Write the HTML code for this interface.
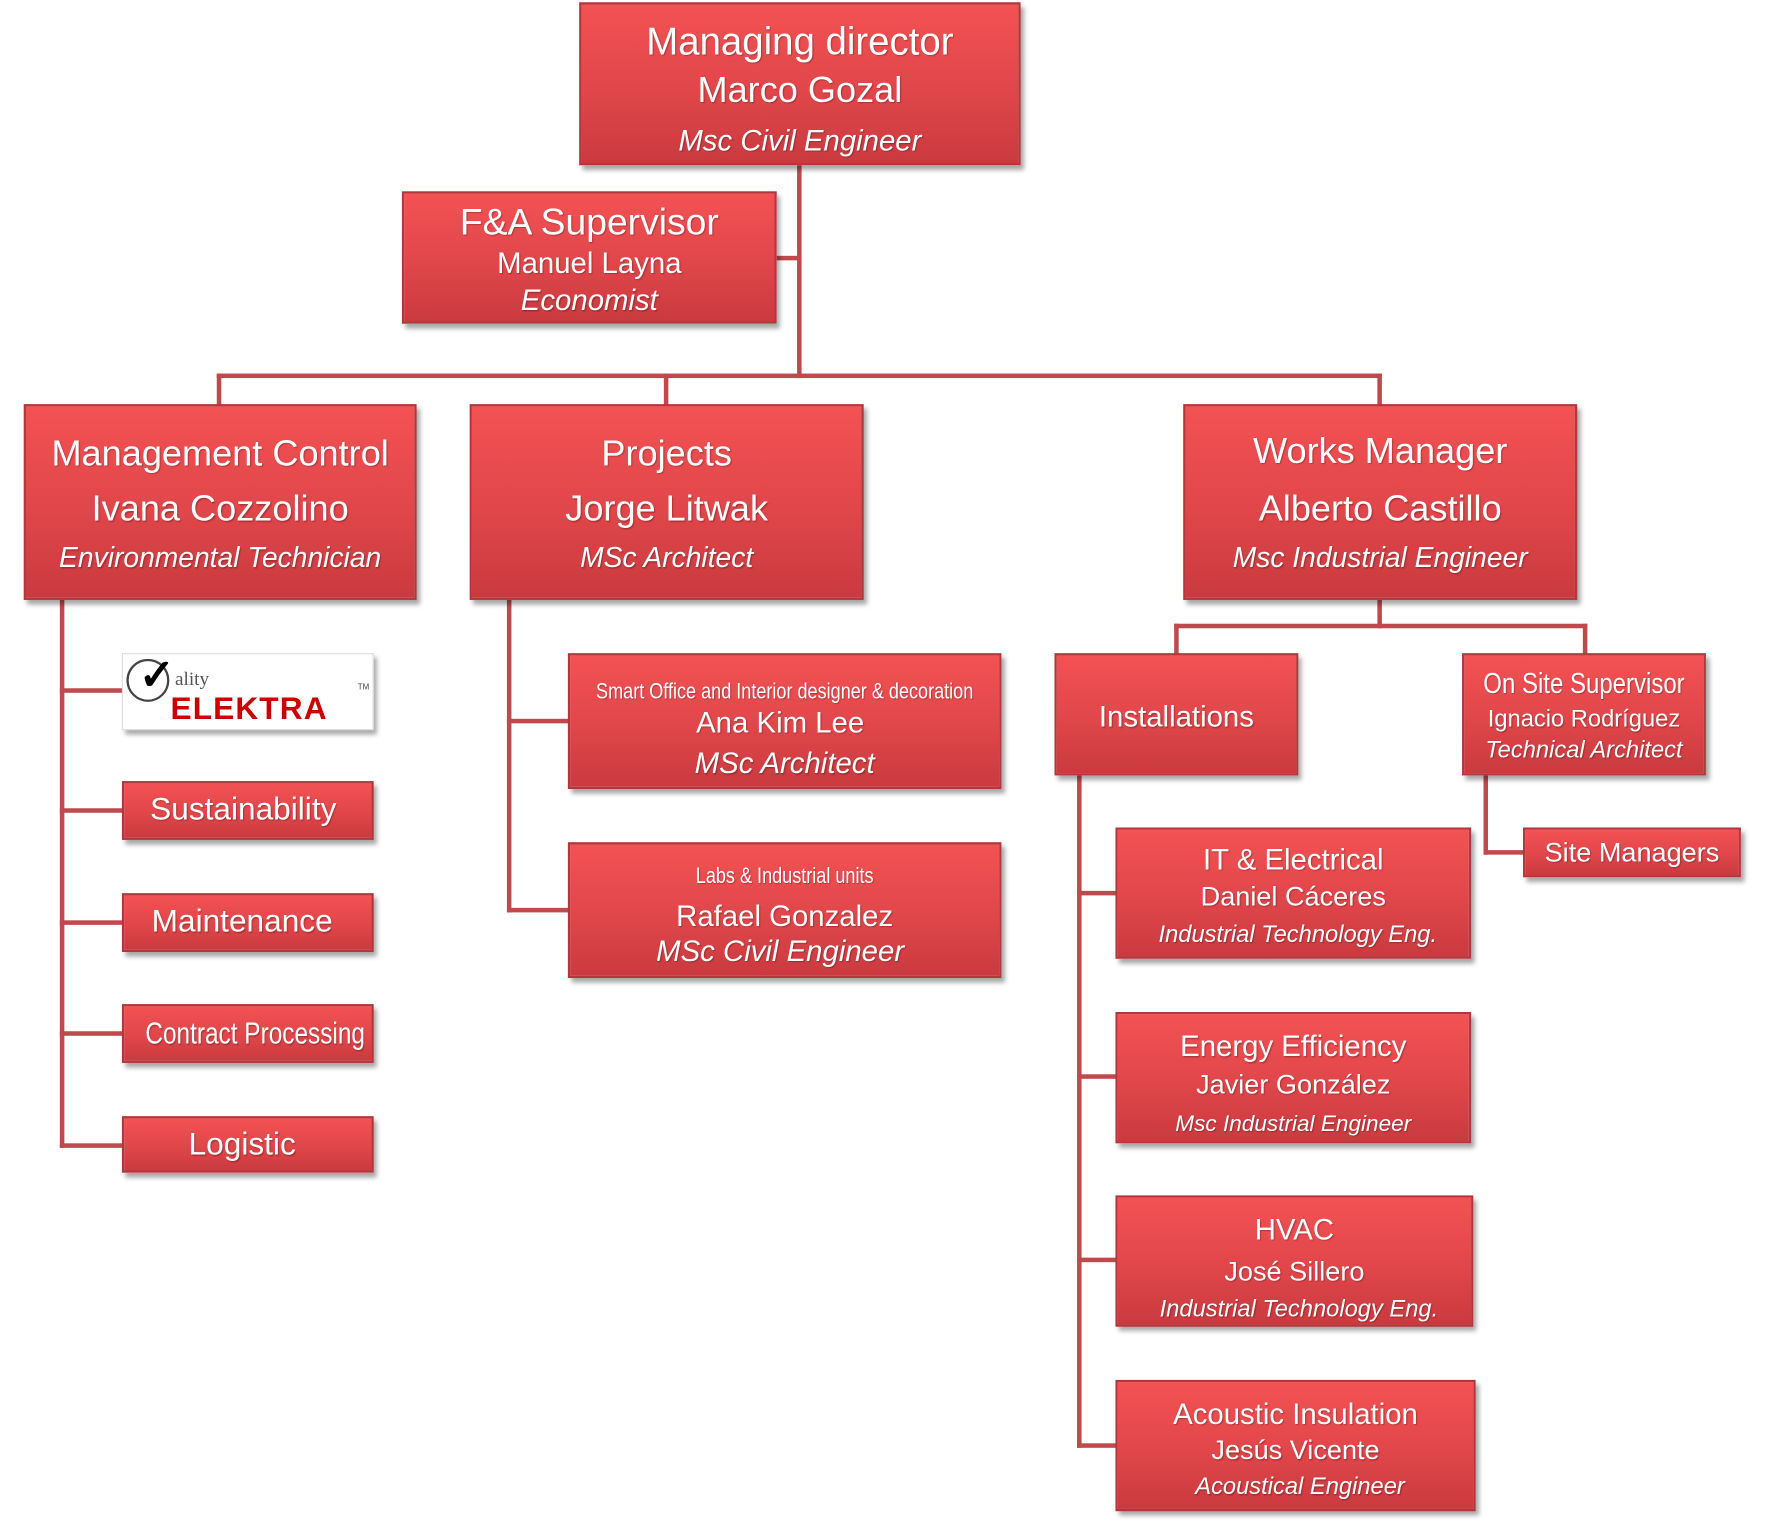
<!DOCTYPE html>
<html><head><meta charset="utf-8"><style>
html,body{margin:0;padding:0;background:#fff;width:1769px;height:1524px;overflow:hidden}
#c{position:absolute;left:0;top:0;width:1560px;height:1344px;transform:scale(1.129,1.132);transform-origin:0 0;font-family:"Liberation Sans",sans-serif}
.b{position:absolute;background:linear-gradient(#f35253,#e0464a 55%,#c93a3f);border:2px solid #b3363a;box-sizing:border-box;box-shadow:3px 4px 4px rgba(0,0,0,.35);color:#fff}
.t{position:absolute;left:0;right:0;text-align:center;white-space:nowrap;text-shadow:1px 1px 1px rgba(0,0,0,.25)}
.i{font-style:italic}
.n{position:absolute;left:50%;right:auto;transform:translateX(-50%) scaleX(.8);white-space:nowrap;text-shadow:1px 1px 1px rgba(0,0,0,.25)}
.h{position:absolute;background:#c0494d}
</style></head><body><div id="c">
<div class="h" style="left:706px;top:146px;width:4px;height:188px"></div>
<div class="h" style="left:688px;top:226px;width:20px;height:4px"></div>
<div class="h" style="left:192px;top:330px;width:1032px;height:4px"></div>
<div class="h" style="left:192px;top:330px;width:4px;height:28px"></div>
<div class="h" style="left:588px;top:330px;width:4px;height:28px"></div>
<div class="h" style="left:1220px;top:330px;width:4px;height:28px"></div>
<div class="h" style="left:53px;top:530px;width:4px;height:484px"></div>
<div class="h" style="left:53px;top:608px;width:56px;height:4px"></div>
<div class="h" style="left:53px;top:714px;width:56px;height:4px"></div>
<div class="h" style="left:53px;top:813px;width:56px;height:4px"></div>
<div class="h" style="left:53px;top:911px;width:56px;height:4px"></div>
<div class="h" style="left:53px;top:1010px;width:56px;height:4px"></div>
<div class="h" style="left:449px;top:530px;width:4px;height:276px"></div>
<div class="h" style="left:449px;top:635px;width:55px;height:4px"></div>
<div class="h" style="left:449px;top:802px;width:55px;height:4px"></div>
<div class="h" style="left:1220px;top:530px;width:4px;height:25px"></div>
<div class="h" style="left:1040px;top:551px;width:366px;height:4px"></div>
<div class="h" style="left:1040px;top:551px;width:4px;height:27px"></div>
<div class="h" style="left:1402px;top:551px;width:4px;height:27px"></div>
<div class="h" style="left:1314px;top:685px;width:4px;height:70px"></div>
<div class="h" style="left:1314px;top:751px;width:36px;height:4px"></div>
<div class="h" style="left:954px;top:685px;width:4px;height:594px"></div>
<div class="h" style="left:954px;top:787px;width:35px;height:4px"></div>
<div class="h" style="left:954px;top:949px;width:35px;height:4px"></div>
<div class="h" style="left:954px;top:1111px;width:35px;height:4px"></div>
<div class="h" style="left:954px;top:1275px;width:35px;height:4px"></div>

<div class="b" style="left:513px;top:2px;width:391px;height:144px">
<div class="t" style="top:13px;font-size:34px;line-height:40px">Managing director</div>
<div class="t" style="top:55px;font-size:32px;line-height:40px">Marco Gozal</div>
<div class="t i" style="top:104px;font-size:26px;line-height:32px">Msc Civil Engineer</div></div>

<div class="b" style="left:356px;top:169px;width:332px;height:117px">
<div class="t" style="top:6px;font-size:33px;line-height:38px">F&amp;A Supervisor</div>
<div class="t" style="top:46px;font-size:26px;line-height:30px">Manuel Layna</div>
<div class="t i" style="top:79px;font-size:26px;line-height:30px">Economist</div></div>

<div class="b" style="left:21px;top:357px;width:348px;height:173px">
<div class="t" style="top:21px;font-size:32px;line-height:40px">Management Control</div>
<div class="t" style="top:70px;font-size:32px;line-height:40px">Ivana Cozzolino</div>
<div class="t i" style="top:119px;font-size:25px;line-height:30px">Environmental Technician</div></div>

<div class="b" style="left:416px;top:357px;width:349px;height:173px">
<div class="t" style="top:21px;font-size:32px;line-height:40px">Projects</div>
<div class="t" style="top:70px;font-size:32px;line-height:40px">Jorge Litwak</div>
<div class="t i" style="top:119px;font-size:25px;line-height:30px">MSc Architect</div></div>

<div class="b" style="left:1048px;top:357px;width:349px;height:173px">
<div class="t" style="top:19px;font-size:32px;line-height:40px">Works Manager</div>
<div class="t" style="top:70px;font-size:32px;line-height:40px">Alberto Castillo</div>
<div class="t i" style="top:119px;font-size:25px;line-height:30px">Msc Industrial Engineer</div></div>

<div style="position:absolute;left:108px;top:577px;width:223px;height:68px;background:#fff;border:1px solid #ddd;box-sizing:border-box;box-shadow:3px 4px 4px rgba(0,0,0,.35)">
<div style="position:absolute;left:3px;top:4px;width:34px;height:34px;border:2px solid #444;border-radius:50%"></div>
<div style="position:absolute;left:14px;top:-4px;font-size:38px;color:#000;font-weight:bold">✓</div>
<div style="position:absolute;left:46px;top:12px;font-size:17px;color:#555;font-family:'Liberation Serif',serif">ality</div>
<div style="position:absolute;left:42px;top:32px;font-size:28px;color:#c00;font-weight:bold;letter-spacing:1px">ELEKTRA</div>
<div style="position:absolute;right:3px;top:26px;font-size:7px;color:#444">TM</div></div>

<div class="b" style="left:108px;top:690px;width:223px;height:52px"><div class="t" style="top:6px;font-size:28px;line-height:34px;left:-8px">Sustainability</div></div>
<div class="b" style="left:108px;top:789px;width:223px;height:52px"><div class="t" style="top:6px;font-size:28px;line-height:34px;left:-10px">Maintenance</div></div>
<div class="b" style="left:108px;top:887px;width:223px;height:52px"><div class="n" style="top:7px;font-size:27px;line-height:34px;left:53%">Contract Processing</div></div>
<div class="b" style="left:108px;top:986px;width:223px;height:50px"><div class="t" style="top:6px;font-size:28px;line-height:34px;left:-10px">Logistic</div></div>

<div class="b" style="left:503px;top:577px;width:384px;height:120px">
<div class="n" style="top:20px;font-size:20px;line-height:24px">Smart Office and Interior designer &amp; decoration</div>
<div class="t" style="top:44px;font-size:26px;line-height:30px;left:-8px">Ana Kim Lee</div>
<div class="t i" style="top:80px;font-size:26px;line-height:30px">MSc Architect</div></div>

<div class="b" style="left:503px;top:744px;width:384px;height:120px">
<div class="n" style="top:16px;font-size:20px;line-height:24px">Labs &amp; Industrial units</div>
<div class="t" style="top:48px;font-size:26px;line-height:30px">Rafael Gonzalez</div>
<div class="t i" style="top:79px;font-size:26px;line-height:30px;left:-8px">MSc Civil Engineer</div></div>

<div class="b" style="left:934px;top:577px;width:216px;height:108px"><div class="t" style="top:38px;font-size:26px;line-height:32px">Installations</div></div>

<div class="b" style="left:1295px;top:577px;width:216px;height:108px">
<div class="n" style="top:11px;font-size:25px;line-height:28px;transform:translateX(-50%) scaleX(.85)">On Site Supervisor</div>
<div class="t" style="top:44px;font-size:21px;line-height:26px">Ignacio Rodríguez</div>
<div class="t i" style="top:71px;font-size:21px;line-height:26px">Technical Architect</div></div>

<div class="b" style="left:1349px;top:731px;width:193px;height:44px"><div class="t" style="top:6px;font-size:24px;line-height:30px">Site Managers</div></div>

<div class="b" style="left:988px;top:731px;width:315px;height:116px">
<div class="t" style="top:11px;font-size:26px;line-height:30px">IT &amp; Electrical</div>
<div class="t" style="top:46px;font-size:24px;line-height:28px">Daniel Cáceres</div>
<div class="t i" style="top:80px;font-size:21px;line-height:26px;left:8px">Industrial Technology Eng.</div></div>

<div class="b" style="left:988px;top:894px;width:315px;height:116px">
<div class="t" style="top:13px;font-size:26px;line-height:30px">Energy Efficiency</div>
<div class="t" style="top:49px;font-size:24px;line-height:28px">Javier González</div>
<div class="t i" style="top:85px;font-size:20px;line-height:24px">Msc Industrial Engineer</div></div>

<div class="b" style="left:988px;top:1056px;width:317px;height:116px">
<div class="t" style="top:13px;font-size:26px;line-height:30px">HVAC</div>
<div class="t" style="top:52px;font-size:24px;line-height:28px">José Sillero</div>
<div class="t i" style="top:86px;font-size:21px;line-height:26px;left:8px">Industrial Technology Eng.</div></div>

<div class="b" style="left:988px;top:1219px;width:319px;height:116px">
<div class="t" style="top:13px;font-size:26px;line-height:30px">Acoustic Insulation</div>
<div class="t" style="top:47px;font-size:24px;line-height:28px">Jesús Vicente</div>
<div class="t i" style="top:80px;font-size:21px;line-height:26px;left:8px">Acoustical Engineer</div></div>
</div></body></html>
